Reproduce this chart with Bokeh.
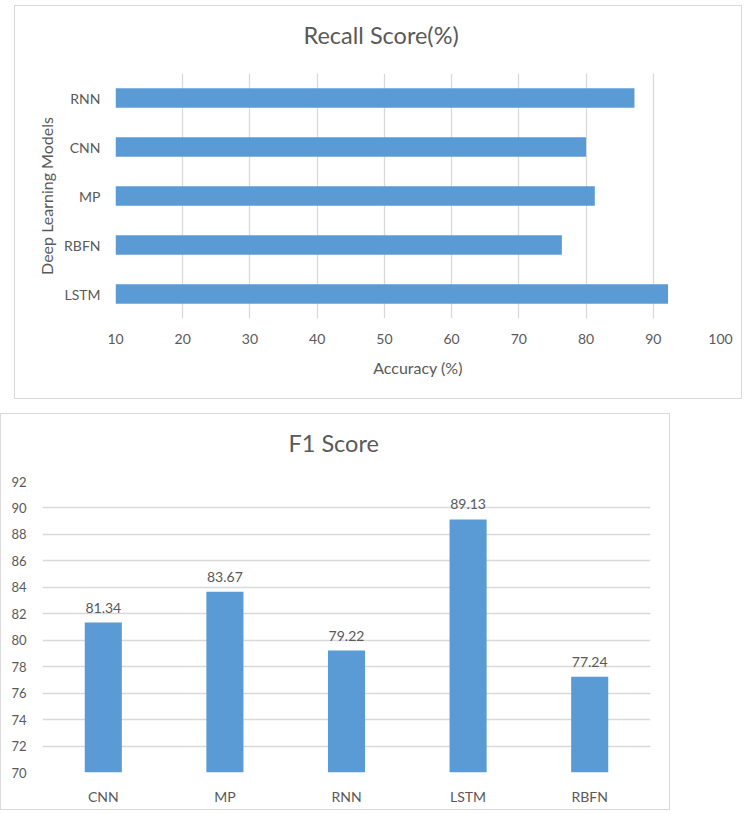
from bokeh.plotting import figure
from bokeh.models import ColumnDataSource, FactorRange, Range1d, FixedTicker, LabelSet, Title
from bokeh.core.properties import value
from bokeh.embed import file_html
from bokeh.resources import INLINE

# Recall scores (horizontal bars), listed bottom to top
recall_models = ["LSTM", "RBFN", "MP", "CNN", "RNN"]
recall_values = [92.2, 76.4, 81.3, 80.0, 87.2]
recall_ticks = [10, 20, 30, 40, 50, 60, 70, 80, 90, 100]

# F1 scores (vertical bars)
f1_models = ["CNN", "MP", "RNN", "LSTM", "RBFN"]
f1_values = [81.34, 83.67, 79.22, 89.13, 77.24]
f1_ticks = [70, 72, 74, 76, 78, 80, 82, 84, 86, 88, 90, 92]

BAR = "#5B9BD5"
GRID = "#D9D9D9"
TEXT = "#595959"
FONT = "Lato"


def style_common(p):
    p.outline_line_color = None
    p.background_fill_color = "white"
    p.border_fill_color = "white"
    for ax in (p.xaxis, p.yaxis):
        ax.axis_line_color = None
        ax.major_tick_line_color = None
        ax.minor_tick_line_color = None
        ax.major_tick_out = 0
        ax.major_tick_in = 0
        ax.minor_tick_out = 0
        ax.major_label_text_font = FONT
        ax.major_label_text_font_size = "14px"
        ax.major_label_text_color = TEXT
        ax.axis_label_text_font = FONT
        ax.axis_label_text_font_size = "16px"
        ax.axis_label_text_font_style = "normal"
        ax.axis_label_text_color = TEXT


def add_heading(p, text, offset):
    # a blank spacer row sits between the frame and the heading
    p.add_layout(Title(text=" ", text_font_size="12px", standoff=9), "above")
    p.add_layout(Title(text=text, align="left", offset=offset, standoff=0,
                       text_font=FONT, text_font_size="23.5px",
                       text_font_style="normal", text_color=TEXT), "above")


# ---- Recall chart ----
recall_src = ColumnDataSource(dict(model=recall_models, value=recall_values))
top = figure(
    width=728, height=394,
    y_range=FactorRange(*recall_models, range_padding=0),
    x_range=Range1d(10, 100),
    output_backend="svg", toolbar_location=None,
    min_border_left=100, min_border_right=23,
    min_border_top=67, min_border_bottom=82,
    margin=(5, 0, 0, 14),
    styles={"border": "1px solid #D9D9D9"},
)
top.hbar(y="model", right="value", left=10, height=0.4, source=recall_src,
         fill_color=BAR, line_color=None)
style_common(top)
add_heading(top, "Recall Score(%)", 188)
top.xaxis.ticker = FixedTicker(ticks=recall_ticks)
top.xaxis.axis_label = "Accuracy (%)"
top.yaxis.axis_label = "Deep Learning Models"
top.xaxis.major_label_standoff = 15
top.xaxis.axis_label_standoff = 11
top.yaxis.major_label_standoff = 15
top.xgrid.grid_line_color = GRID
top.xgrid.grid_line_width = 1.3
top.ygrid.grid_line_color = None

# ---- F1 chart ----
f1_src = ColumnDataSource(dict(model=f1_models, value=f1_values,
                               label=[f"{v:.2f}" for v in f1_values]))
bottom = figure(
    width=670, height=397,
    x_range=FactorRange(*f1_models, range_padding=0),
    y_range=Range1d(70, 92),
    output_backend="svg", toolbar_location=None,
    min_border_left=41, min_border_right=21,
    min_border_top=67, min_border_bottom=39,
    margin=(14, 0, 0, 0),
    styles={"border": "1px solid #D9D9D9"},
)
bottom.vbar(x="model", top="value", bottom=70, width=0.305, source=f1_src,
            fill_color=BAR, line_color=None)
bottom.add_layout(LabelSet(x="model", y="value", text="label", source=f1_src,
                           text_align="center", text_baseline="bottom", y_offset=10,
                           text_font=value(FONT), text_font_size="14px",
                           text_color=TEXT))
style_common(bottom)
add_heading(bottom, "F1 Score", 246)
bottom.yaxis.ticker = FixedTicker(ticks=f1_ticks)
bottom.yaxis.major_label_text_font_size = "13px"
bottom.xaxis.major_label_standoff = 15
bottom.yaxis.major_label_standoff = 16
bottom.ygrid.grid_line_color = GRID
bottom.ygrid.grid_line_width = 1.3
bottom.xgrid.grid_line_color = None

open("out.html", "w").write(file_html([top, bottom], INLINE))
